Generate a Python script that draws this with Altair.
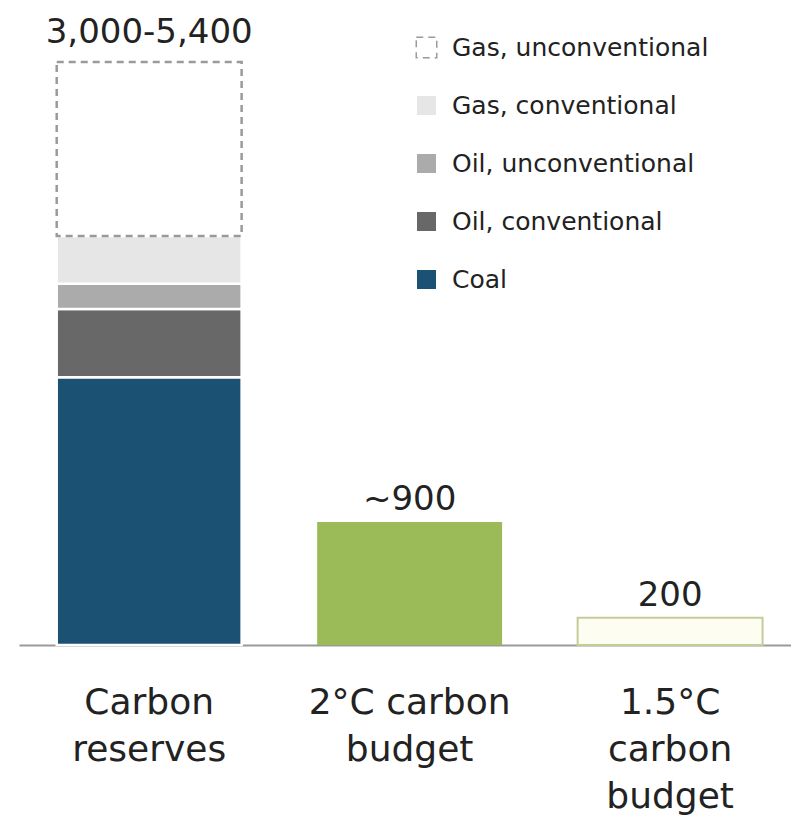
import altair as alt
import pandas as pd

# ---- data ----
categories = ["Carbon reserves", "2°C carbon budget", "1.5°C carbon budget"]
fuel_types = ["Coal", "Oil, conventional", "Oil, unconventional",
              "Gas, conventional", "Gas, unconventional"]
fuel_values = [1960, 500, 185, 350, 1275]
budget_categories = ["2°C carbon budget", "1.5°C carbon budget"]
budget_values = [900, 200]
reserve_label = "3,000-5,400"
budget_labels = ["~900", "200"]

legend_order = fuel_types[::-1]
fuel_colors = ["#ffffff", "#e6e6e6", "#ababab", "#686868", "#1b5273"]
fuel_strokes = ["#9a9a9a", "#ffffff", "#ffffff", "#ffffff", "#ffffff"]
fuel_dash = [[7, 5], [1, 0], [1, 0], [1, 0], [1, 0]]

reserves = pd.DataFrame({
    "category": ["Carbon reserves"] * len(fuel_types),
    "fuel": fuel_types,
    "value": fuel_values,
    "order": list(range(len(fuel_types))),
})
budgets = pd.DataFrame({
    "category": budget_categories,
    "value": budget_values,
    "label": budget_labels,
})
reserve_top = pd.DataFrame({
    "category": ["Carbon reserves"],
    "value": [sum(fuel_values)],
    "label": [reserve_label],
})

FONT = "DejaVu Sans"

x_enc = alt.X(
    "category:N",
    sort=categories,
    scale=alt.Scale(domain=categories, paddingInner=0.29, paddingOuter=0.127, align=0.57),
    axis=alt.Axis(
        title=None, labelAngle=0, ticks=False, tickSize=0,
        labelExpr="datum.value == 'Carbon reserves' ? ['Carbon', 'reserves'] : "
                  "datum.value == '2°C carbon budget' ? ['2°C carbon', 'budget'] : "
                  "['1.5°C', 'carbon', 'budget']",
        labelFont=FONT, labelFontSize=36, labelColor="#222222",
        labelLineHeight=47, labelPadding=40, labelBaseline="top",
        domainColor="#9a9a9a", domainWidth=2, labelOverlap=False,
        labelBound=False, labelFlush=False, labelLimit=1000,
    ),
)
y_scale = alt.Scale(domain=[0, 4650], nice=False, zero=True)

reserve_bars = alt.Chart(reserves).mark_bar(strokeWidth=2.5).encode(
    x=x_enc,
    y=alt.Y("value:Q", stack="zero", scale=y_scale, axis=None),
    order=alt.Order("order:Q", sort="ascending"),
    fill=alt.Fill(
        "fuel:N",
        scale=alt.Scale(domain=legend_order, range=fuel_colors),
        legend=alt.Legend(
            title=None, orient="none", legendX=395, legendY=25,
            symbolType="square", symbolSize=420, symbolStrokeWidth=1.5,
            labelFont=FONT, labelFontSize=25, labelColor="#222222",
            rowPadding=31, labelOffset=13, symbolOpacity=1, labelLimit=1000,
        ),
    ),
    stroke=alt.Stroke("fuel:N", scale=alt.Scale(domain=legend_order, range=fuel_strokes)),
    strokeDash=alt.StrokeDash("fuel:N", scale=alt.Scale(domain=legend_order, range=fuel_dash)),
)

green_bar = alt.Chart(budgets).transform_filter(
    alt.datum.category == budget_categories[0]
).mark_bar(color="#9bbb59").encode(
    x=x_enc,
    y=alt.Y("value:Q", scale=y_scale, axis=None),
)

outline_bar = alt.Chart(budgets).transform_filter(
    alt.datum.category == budget_categories[1]
).mark_bar(fill="#fdfdf2", stroke="#c5cc98", strokeWidth=2).encode(
    x=x_enc,
    y=alt.Y("value:Q", scale=y_scale, axis=None),
)

budget_text = alt.Chart(budgets).mark_text(
    font=FONT, fontSize=34, color="#222222", baseline="alphabetic", dy=-12
).encode(
    x=x_enc,
    y=alt.Y("value:Q", scale=y_scale, axis=None),
    text="label:N",
)

reserve_text = alt.Chart(reserve_top).mark_text(
    font=FONT, fontSize=34, color="#222222", baseline="alphabetic", dy=-19
).encode(
    x=x_enc,
    y=alt.Y("value:Q", scale=y_scale, axis=None),
    text="label:N",
)

chart = alt.layer(
    reserve_bars, green_bar, outline_bar, budget_text, reserve_text
).properties(
    width=772, height=635,
    autosize=alt.AutoSizeParams(type="none"),
    padding={"left": 19, "top": 10, "right": 0, "bottom": 170},
    background="white",
).configure_view(stroke=None)

chart.save("out.html", embed_options={"renderer": "svg", "actions": False})
